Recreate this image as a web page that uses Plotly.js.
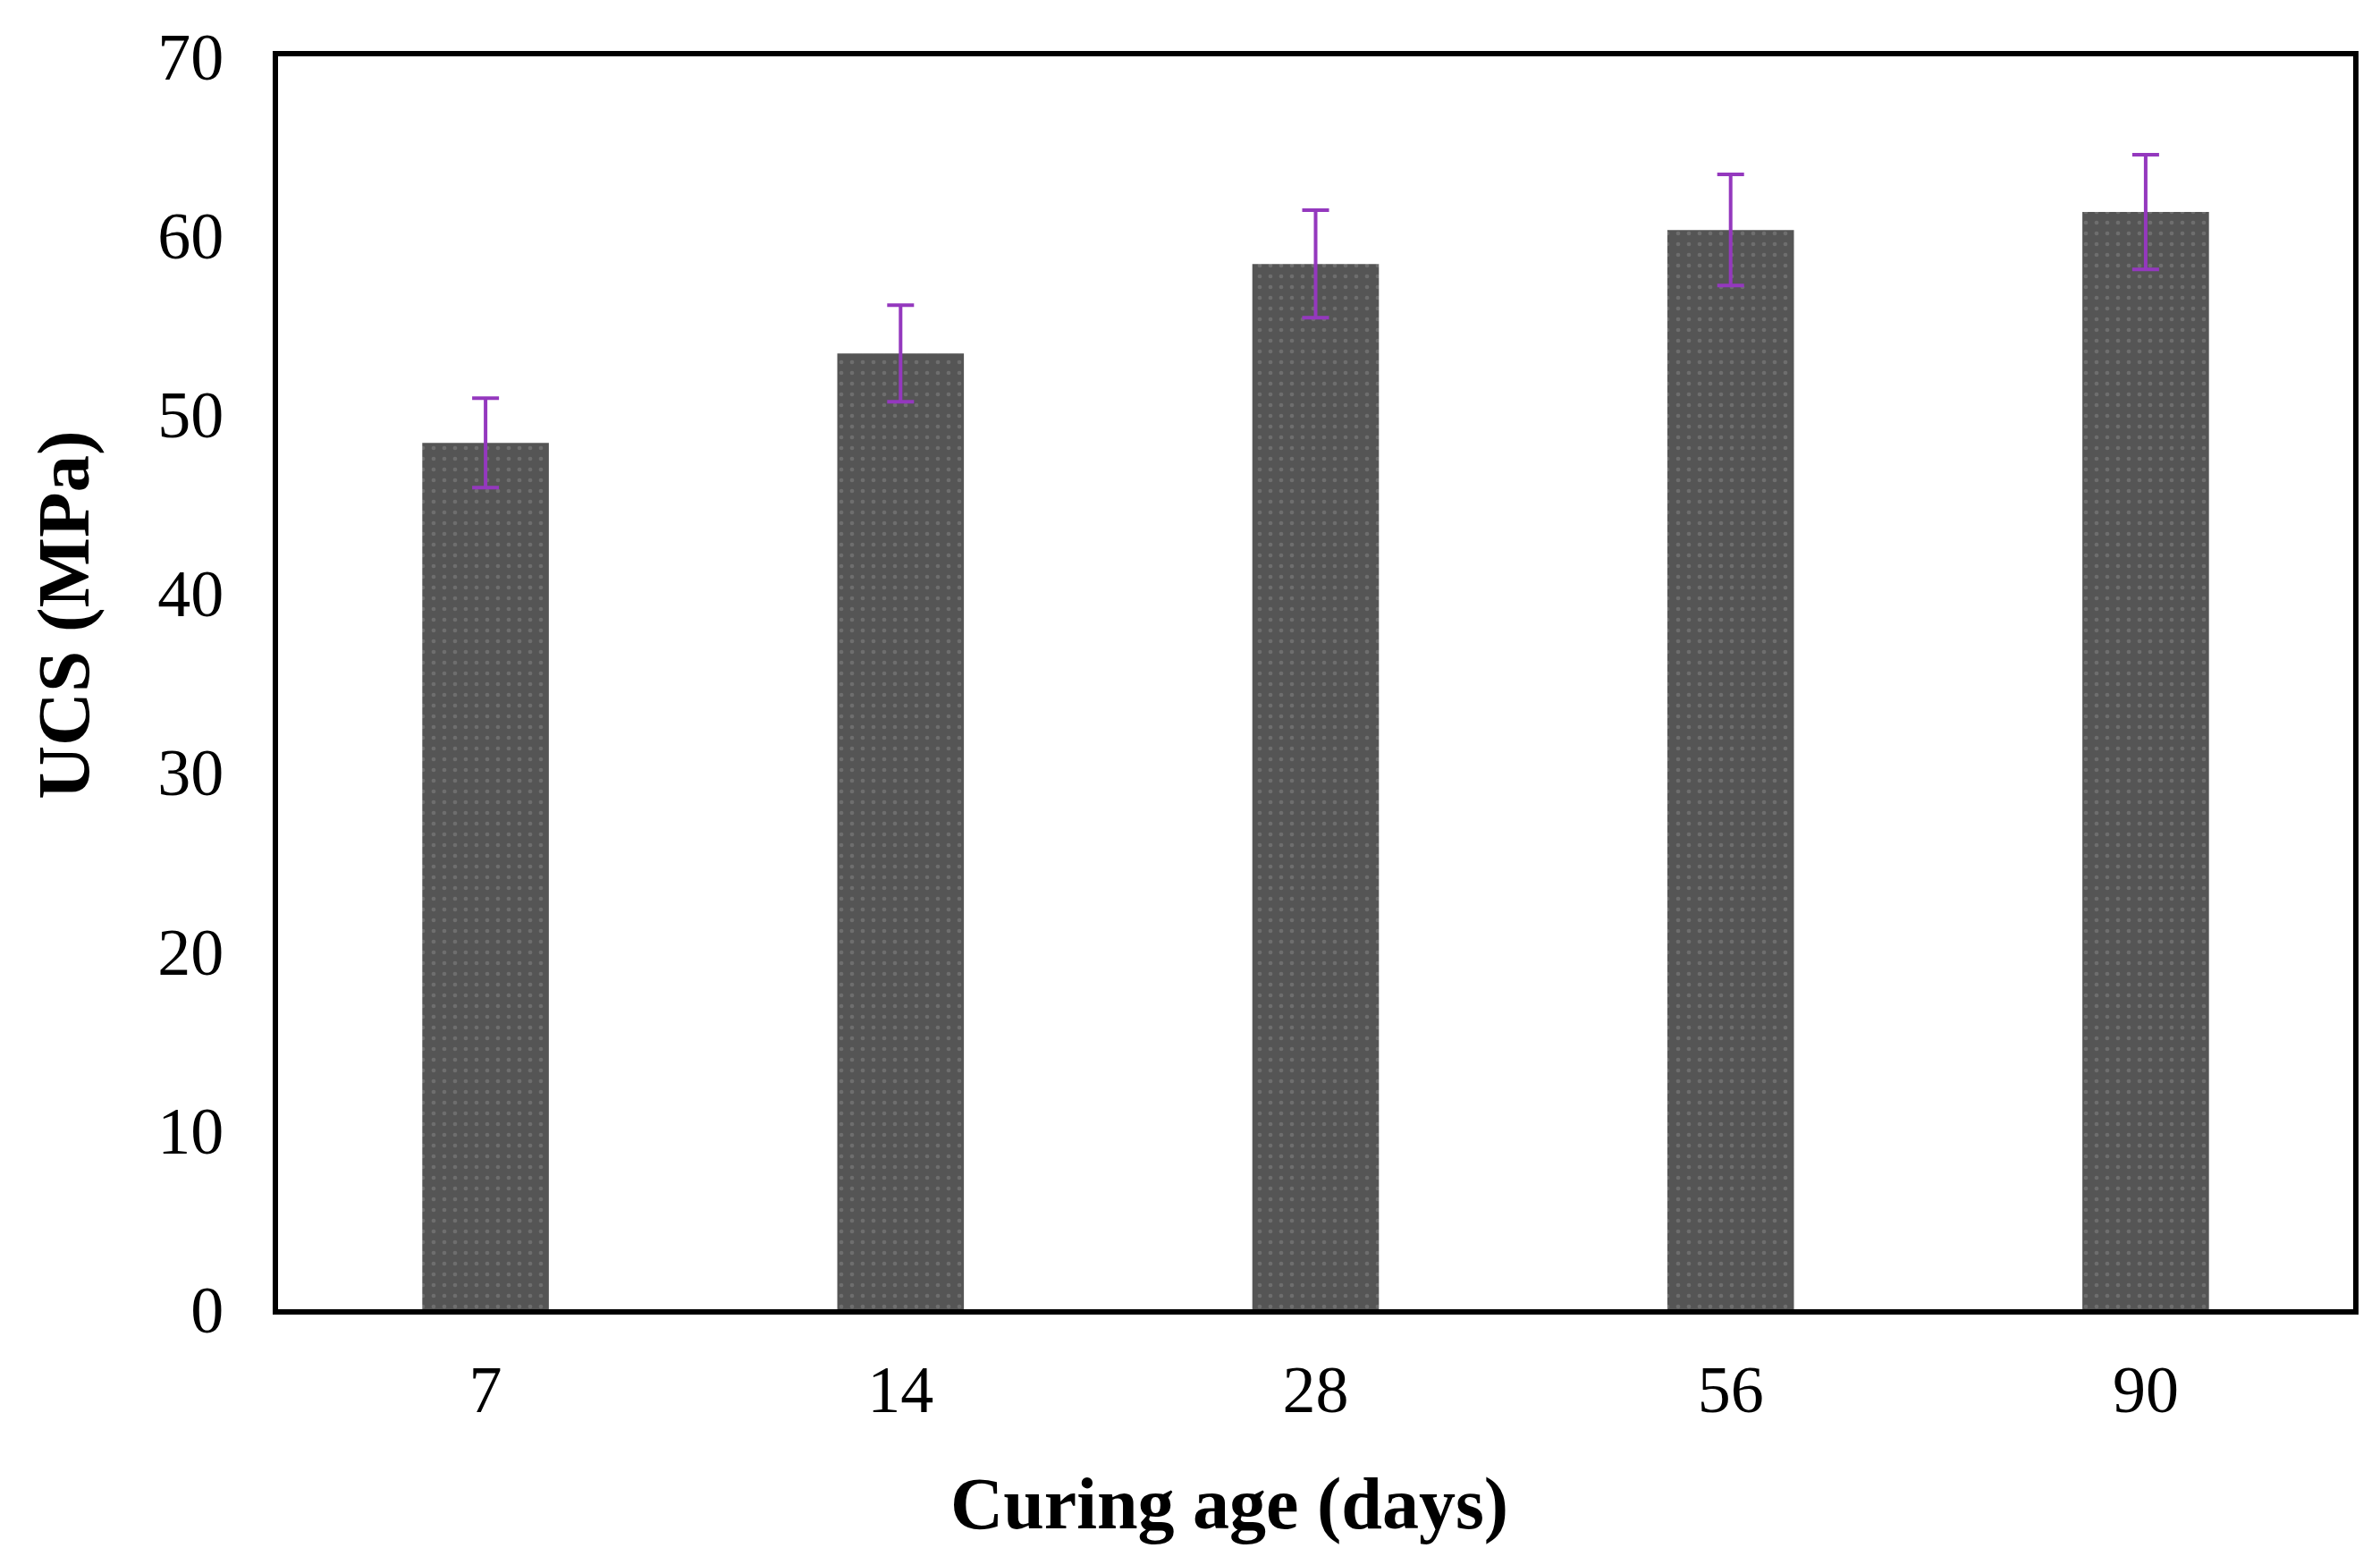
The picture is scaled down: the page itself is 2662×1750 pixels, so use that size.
<!DOCTYPE html>
<html>
<head>
<meta charset="utf-8">
<script src="https://cdn.plot.ly/plotly-3.0.1.min.js"></script>
<style>html,body{margin:0;padding:0;background:#fff;}#chart{width:2662px;height:1750px;}</style>
</head>
<body>
<div id="chart"></div>
<script>
const categories = ['7', '14', '28', '56', '90'];
const ucsValues = [48.4, 53.4, 58.4, 60.3, 61.3];
const ucsErrors = [2.5, 2.7, 3.0, 3.1, 3.2];
const yTickValues = [0, 10, 20, 30, 40, 50, 60, 70];
const xTitle = 'Curing age (days)';
const yTitle = 'UCS (MPa)';

const trace = {
  type: 'bar',
  x: categories,
  y: ucsValues,
  width: 0.305,
  marker: {
    color: '#555555',
    line: {width: 0},
    pattern: {shape: '.', fgcolor: '#6e6e6e', bgcolor: '#555555', size: 12, solidity: 0.12}
  },
  error_y: {
    type: 'data',
    array: ucsErrors,
    visible: true,
    color: '#9438be',
    thickness: 4,
    width: 15
  },
  hoverinfo: 'skip'
};

const font = 'Liberation Serif, Times New Roman, serif';

const layout = {
  width: 2662,
  height: 1750,
  paper_bgcolor: '#ffffff',
  plot_bgcolor: '#ffffff',
  margin: {l: 311, r: 30, t: 63, b: 286},
  showlegend: false,
  xaxis: {
    type: 'category',
    showline: true,
    linecolor: '#000',
    linewidth: 6,
    mirror: true,
    showgrid: false,
    zeroline: false,
    ticks: '',
    ticklabelstandoff: 20,
    tickfont: {family: font, size: 74, color: '#000'}
  },
  yaxis: {
    range: [0, 70],
    tickvals: yTickValues,
    ticktext: yTickValues.map(String),
    showline: true,
    linecolor: '#000',
    linewidth: 6,
    mirror: true,
    showgrid: false,
    zeroline: false,
    ticks: '',
    ticklabelstandoff: 40,
    tickfont: {family: font, size: 74, color: '#000'}
  },
  annotations: [
    {
      text: '<b>' + xTitle + '</b>',
      xref: 'paper', yref: 'paper',
      x: 0.4584, y: -0.155,
      xanchor: 'center', yanchor: 'middle',
      showarrow: false,
      font: {family: font, size: 82, color: '#000'}
    },
    {
      text: '<b>' + yTitle + '</b>',
      xref: 'paper', yref: 'paper',
      x: -0.1034, y: 0.554,
      xanchor: 'center', yanchor: 'middle',
      textangle: -90,
      showarrow: false,
      font: {family: font, size: 83, color: '#000'}
    }
  ]
};

Plotly.newPlot('chart', [trace], layout, {staticPlot: true, displayModeBar: false});
</script>
</body>
</html>
